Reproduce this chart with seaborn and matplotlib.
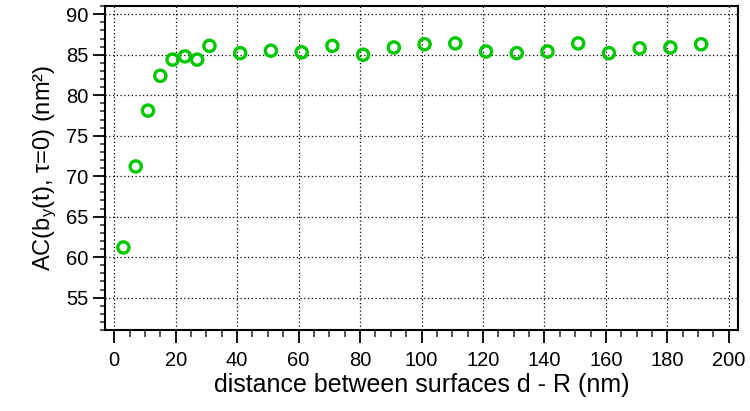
import matplotlib as mpl
mpl.use("Agg")
import matplotlib.pyplot as plt
import seaborn as sns
import pandas as pd
from matplotlib.ticker import MultipleLocator

distance = [3, 7, 11, 15, 19, 23, 27, 31, 41, 51, 61, 71, 81, 91, 101, 111,
            121, 131, 141, 151, 161, 171, 181, 191]
ac_value = [61.2, 71.2, 78.1, 82.4, 84.4, 84.8, 84.4, 86.1, 85.2, 85.5, 85.3, 86.1,
            85.0, 85.9, 86.3, 86.4, 85.4, 85.2, 85.4, 86.4, 85.2, 85.8, 85.9, 86.3]

df = pd.DataFrame({"d": distance, "ac": ac_value})

sns.set_style("white")
plt.rcParams["font.family"] = ["Liberation Sans", "DejaVu Sans"]
plt.rcParams["mathtext.fontset"] = "custom"
plt.rcParams["mathtext.rm"] = "Liberation Sans"
plt.rcParams["mathtext.it"] = "Liberation Sans"
plt.rcParams["text.color"] = "black"
plt.rcParams["axes.labelcolor"] = "black"

fig = plt.figure(figsize=(7.5, 4.11), dpi=100)
ax = fig.add_axes([0.14, 0.197, 0.844, 0.788])

sns.scatterplot(data=df, x="d", y="ac", ax=ax, marker="o", s=65,
                facecolor="none", edgecolor="#00c800", linewidth=2.4, zorder=3)

ax.set_xlim(-3, 203)
ax.set_ylim(51, 91)
ax.xaxis.set_major_locator(MultipleLocator(20))
ax.xaxis.set_minor_locator(MultipleLocator(5))
ax.yaxis.set_major_locator(MultipleLocator(5))
ax.yaxis.set_minor_locator(MultipleLocator(1))
ax.set_yticks(range(55, 91, 5))

ax.grid(True, which="major", color="black", linestyle=(0, (1, 2)), linewidth=0.9)
ax.tick_params(which="major", direction="out", length=9, width=1.3, labelsize=14.5,
               bottom=True, left=True, colors="black")
ax.tick_params(axis="x", which="major", pad=6)
ax.tick_params(axis="y", which="major", pad=3)
ax.tick_params(axis="x", which="minor", direction="out", length=5, width=1.1, bottom=True)
ax.tick_params(axis="y", which="minor", direction="out", length=3.8, width=1.1, left=True)
for sp in ax.spines.values():
    sp.set_color("black")
    sp.set_linewidth(1.5)

ax.set_xlabel("distance between surfaces d - R (nm)", fontsize=18, labelpad=2, color="black")
ax.set_ylabel("AC(b$_\\mathregular{y}$(t), τ=0) (nm²)", fontsize=17, labelpad=5, color="black")

fig.savefig("out.png", dpi=100)
